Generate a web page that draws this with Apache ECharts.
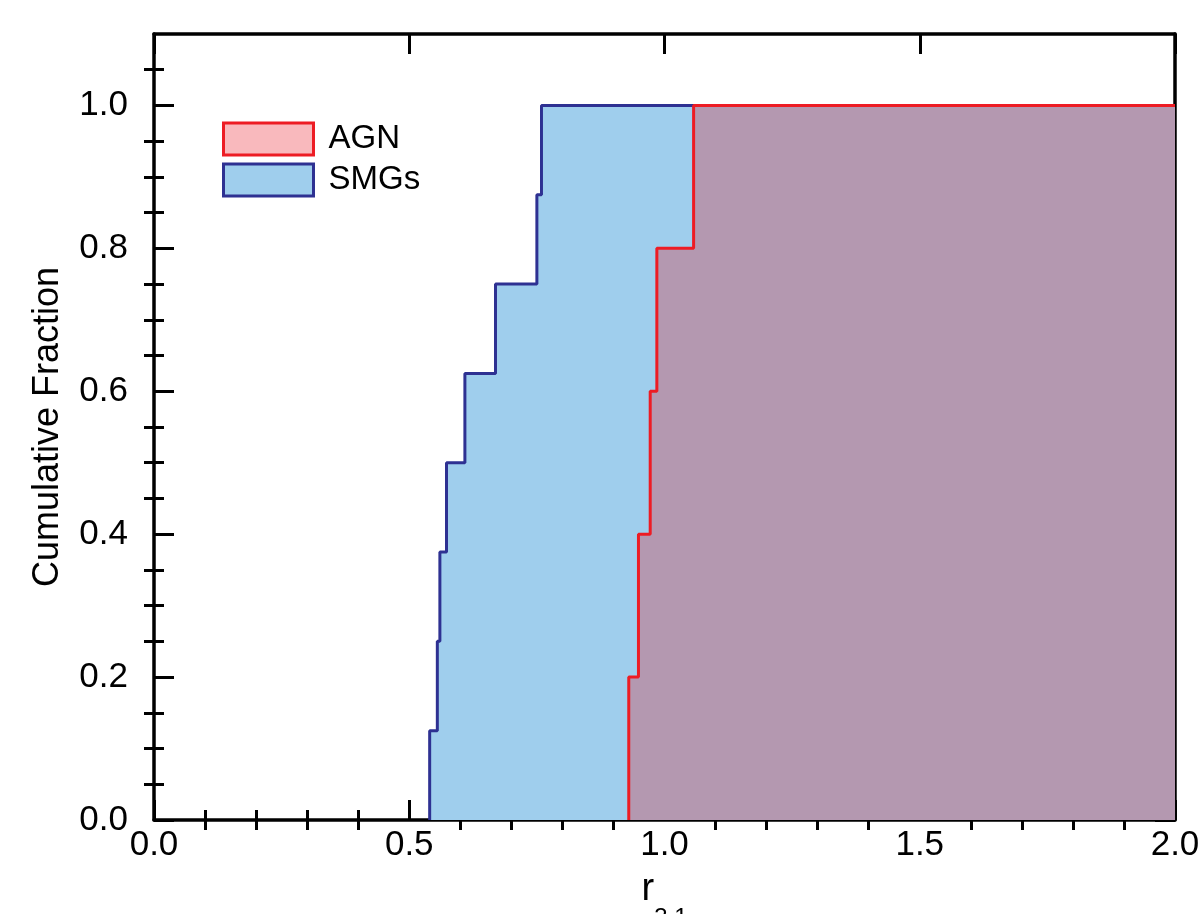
<!DOCTYPE html>
<html>
<head>
<meta charset="utf-8">
<script src="https://cdn.jsdelivr.net/npm/echarts@6/dist/echarts.min.js"></script>
<style>
html,body{margin:0;padding:0;background:#fff;}
#chart{width:1199px;height:914px;}
</style>
</head>
<body>
<div id="chart"></div>
<script>
// ---- data ----
const smgX    = [0.540, 0.555, 0.560, 0.573, 0.609, 0.669, 0.750, 0.759];
const smgFrac = [0.125, 0.25, 0.375, 0.5, 0.625, 0.75, 0.875, 1.0];
const agnX    = [0.930, 0.949, 0.972, 0.985, 1.057];
const agnFrac = [0.2, 0.4, 0.6, 0.8, 1.0];
const xEnd = 2.0;
const xTickLabels = [0, 0.5, 1.0, 1.5, 2.0];
const yTickLabels = [0, 0.2, 0.4, 0.6, 0.8, 1.0];
const seriesNames = ['AGN', 'SMGs'];

const xMinor = [];
for (let i = 1; i < 20; i++) if (i % 5) xMinor.push(i / 10);
const yMinor = [];
for (let i = 1; i <= 21; i++) if (i % 4) yMinor.push(+(i * 0.05).toFixed(2));

function cdfPoints(xs, fr) {
  const pts = [[xs[0], 0]];
  xs.forEach((x, i) => pts.push([x, fr[i]]));
  pts.push([xEnd, fr[fr.length - 1]]);
  return pts;
}

const FONT = "'Liberation Sans', Arial, Helvetica, sans-serif";

function xAx(pos, ticks, len, main) {
  return {
    type: 'value', position: pos, min: 0, max: 2,
    axisLine: main ? { show: true, onZero: false, lineStyle: { color: '#000', width: 3.5 } } : { show: false },
    axisTick: { show: true, inside: true, length: len, customValues: ticks, lineStyle: { color: '#000', width: 3 } },
    axisLabel: { show: false },
    splitLine: { show: false }
  };
}
function yAx(pos, ticks, len, main) {
  return {
    type: 'value', position: pos, min: 0, max: 1.1,
    axisLine: main ? { show: true, onZero: false, lineStyle: { color: '#000', width: 3.5 } } : { show: false },
    axisTick: { show: true, inside: true, length: len, customValues: ticks, lineStyle: { color: '#000', width: 3 } },
    axisLabel: { show: false },
    splitLine: { show: false }
  };
}

const xBottom = xAx('bottom', xTickLabels, 20, true);
xBottom.axisLabel = {
  show: true, customValues: xTickLabels, margin: 8,
  fontSize: 35, color: '#000', fontFamily: FONT,
  formatter: v => v.toFixed(1)
};
xBottom.name = '{r|r}{s|3,1}';
xBottom.nameLocation = 'middle';
xBottom.nameGap = 51;
xBottom.nameTextStyle = {
  color: '#000', fontFamily: FONT,
  rich: {
    r: { fontSize: 38, lineHeight: 38, verticalAlign: 'top', fontFamily: FONT, color: '#000' },
    s: { fontSize: 24, lineHeight: 59, verticalAlign: 'bottom', fontFamily: FONT, color: '#000' }
  }
};

const yLeft = yAx('left', yTickLabels, 20, true);
yLeft.axisLabel = {
  show: true, customValues: yTickLabels, margin: 26,
  fontSize: 35, color: '#000', fontFamily: FONT,
  formatter: v => v.toFixed(1)
};
yLeft.name = 'Cumulative Fraction';
yLeft.nameLocation = 'middle';
yLeft.nameGap = 88;
yLeft.nameTextStyle = { fontSize: 36, color: '#000', fontFamily: FONT };

const option = {
  animation: false,
  backgroundColor: '#fff',
  textStyle: { fontFamily: FONT },
  grid: { left: 154, right: 24, top: 34, bottom: 94, containLabel: false, outerBoundsMode: 'none' },
  legend: {
    orient: 'vertical', left: 222, top: 121.5, padding: 0,
    icon: 'rect', itemWidth: 90, itemHeight: 32, itemGap: 6,
    selectedMode: false,
    textStyle: { fontSize: 33, color: '#000', fontFamily: FONT, lineHeight: 32, padding: [0, 0, 0, 10] },
    data: [
      { name: seriesNames[0], itemStyle: { color: '#F9B9BD', borderColor: '#ED1C24', borderWidth: 3 } },
      { name: seriesNames[1], itemStyle: { color: '#9FCEED', borderColor: '#2E3192', borderWidth: 3 } }
    ]
  },
  xAxis: [
    xBottom,
    xAx('bottom', xMinor, 10, false),
    xAx('top', xTickLabels, 20, true),
    xAx('top', xMinor, 10, false)
  ],
  yAxis: [
    yLeft,
    yAx('left', yMinor, 10, false),
    yAx('right', yTickLabels, 20, true),
    yAx('right', yMinor, 10, false)
  ],
  series: [
    {
      name: seriesNames[1], type: 'line', step: 'end', symbol: 'none',
      xAxisIndex: 0, yAxisIndex: 0,
      data: cdfPoints(smgX, smgFrac),
      lineStyle: { color: '#2E3192', width: 3 },
      itemStyle: { color: '#9FCEED' },
      areaStyle: { color: '#9FCEED', opacity: 1 },
      z: 2
    },
    {
      name: seriesNames[0], type: 'line', step: 'end', symbol: 'none',
      xAxisIndex: 0, yAxisIndex: 0,
      data: cdfPoints(agnX, agnFrac),
      lineStyle: { color: '#ED1C24', width: 3 },
      itemStyle: { color: '#F9B9BD' },
      areaStyle: { color: '#B498B0', opacity: 1 },
      z: 3
    }
  ]
};

const chart = echarts.init(document.getElementById('chart'), null, { renderer: 'canvas' });
chart.setOption(option);
</script>
</body>
</html>
